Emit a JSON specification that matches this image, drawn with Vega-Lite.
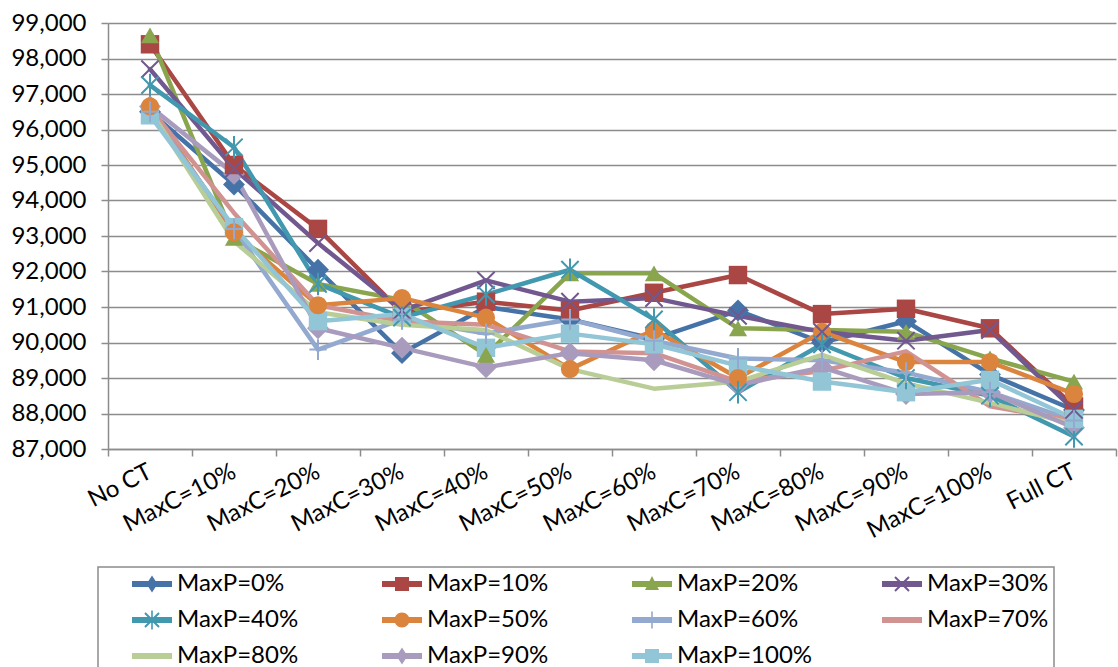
{
  "$schema": "https://vega.github.io/schema/vega-lite/v6.json",
  "width": 1008,
  "height": 426,
  "autosize": {"type": "none"},
  "padding": {"left": 108, "top": 23, "right": 2, "bottom": 218},
  "background": "white",
  "config": {
    "view": {"stroke": null},
    "font": "Lato",
    "axis": {"labelFont": "Lato", "labelColor": "black", "labelFontSize": 24, "domainColor": "#8c8c8c", "tickColor": "#8c8c8c", "domainWidth": 1.5, "tickWidth": 1.5, "tickSize": 7}
  },
  "data": {"values": [
    {"s":"MaxP=0%","c":"No CT","v":96500},{"s":"MaxP=0%","c":"MaxC=10%","v":94450},{"s":"MaxP=0%","c":"MaxC=20%","v":92050},{"s":"MaxP=0%","c":"MaxC=30%","v":89700},{"s":"MaxP=0%","c":"MaxC=40%","v":91000},{"s":"MaxP=0%","c":"MaxC=50%","v":90650},{"s":"MaxP=0%","c":"MaxC=60%","v":90100},{"s":"MaxP=0%","c":"MaxC=70%","v":90900},{"s":"MaxP=0%","c":"MaxC=80%","v":90000},{"s":"MaxP=0%","c":"MaxC=90%","v":90600},{"s":"MaxP=0%","c":"MaxC=100%","v":89100},{"s":"MaxP=0%","c":"Full CT","v":88100},
    {"s":"MaxP=10%","c":"No CT","v":98400},{"s":"MaxP=10%","c":"MaxC=10%","v":95000},{"s":"MaxP=10%","c":"MaxC=20%","v":93200},{"s":"MaxP=10%","c":"MaxC=30%","v":90850},{"s":"MaxP=10%","c":"MaxC=40%","v":91150},{"s":"MaxP=10%","c":"MaxC=50%","v":90900},{"s":"MaxP=10%","c":"MaxC=60%","v":91400},{"s":"MaxP=10%","c":"MaxC=70%","v":91900},{"s":"MaxP=10%","c":"MaxC=80%","v":90800},{"s":"MaxP=10%","c":"MaxC=90%","v":90950},{"s":"MaxP=10%","c":"MaxC=100%","v":90400},{"s":"MaxP=10%","c":"Full CT","v":88200},
    {"s":"MaxP=20%","c":"No CT","v":98650},{"s":"MaxP=20%","c":"MaxC=10%","v":92950},{"s":"MaxP=20%","c":"MaxC=20%","v":91650},{"s":"MaxP=20%","c":"MaxC=30%","v":91200},{"s":"MaxP=20%","c":"MaxC=40%","v":89650},{"s":"MaxP=20%","c":"MaxC=50%","v":91950},{"s":"MaxP=20%","c":"MaxC=60%","v":91950},{"s":"MaxP=20%","c":"MaxC=70%","v":90400},{"s":"MaxP=20%","c":"MaxC=80%","v":90350},{"s":"MaxP=20%","c":"MaxC=90%","v":90300},{"s":"MaxP=20%","c":"MaxC=100%","v":89550},{"s":"MaxP=20%","c":"Full CT","v":88900},
    {"s":"MaxP=30%","c":"No CT","v":97700},{"s":"MaxP=30%","c":"MaxC=10%","v":94900},{"s":"MaxP=30%","c":"MaxC=20%","v":92800},{"s":"MaxP=30%","c":"MaxC=30%","v":90900},{"s":"MaxP=30%","c":"MaxC=40%","v":91750},{"s":"MaxP=30%","c":"MaxC=50%","v":91150},{"s":"MaxP=30%","c":"MaxC=60%","v":91250},{"s":"MaxP=30%","c":"MaxC=70%","v":90750},{"s":"MaxP=30%","c":"MaxC=80%","v":90300},{"s":"MaxP=30%","c":"MaxC=90%","v":90050},{"s":"MaxP=30%","c":"MaxC=100%","v":90350},{"s":"MaxP=30%","c":"Full CT","v":88100},
    {"s":"MaxP=40%","c":"No CT","v":97250},{"s":"MaxP=40%","c":"MaxC=10%","v":95500},{"s":"MaxP=40%","c":"MaxC=20%","v":91650},{"s":"MaxP=40%","c":"MaxC=30%","v":90700},{"s":"MaxP=40%","c":"MaxC=40%","v":91350},{"s":"MaxP=40%","c":"MaxC=50%","v":92050},{"s":"MaxP=40%","c":"MaxC=60%","v":90650},{"s":"MaxP=40%","c":"MaxC=70%","v":88600},{"s":"MaxP=40%","c":"MaxC=80%","v":89950},{"s":"MaxP=40%","c":"MaxC=90%","v":89000},{"s":"MaxP=40%","c":"MaxC=100%","v":88500},{"s":"MaxP=40%","c":"Full CT","v":87350},
    {"s":"MaxP=50%","c":"No CT","v":96650},{"s":"MaxP=50%","c":"MaxC=10%","v":93100},{"s":"MaxP=50%","c":"MaxC=20%","v":91050},{"s":"MaxP=50%","c":"MaxC=30%","v":91250},{"s":"MaxP=50%","c":"MaxC=40%","v":90700},{"s":"MaxP=50%","c":"MaxC=50%","v":89250},{"s":"MaxP=50%","c":"MaxC=60%","v":90350},{"s":"MaxP=50%","c":"MaxC=70%","v":89000},{"s":"MaxP=50%","c":"MaxC=80%","v":90300},{"s":"MaxP=50%","c":"MaxC=90%","v":89450},{"s":"MaxP=50%","c":"MaxC=100%","v":89450},{"s":"MaxP=50%","c":"Full CT","v":88550},
    {"s":"MaxP=60%","c":"No CT","v":96500},{"s":"MaxP=60%","c":"MaxC=10%","v":93200},{"s":"MaxP=60%","c":"MaxC=20%","v":89800},{"s":"MaxP=60%","c":"MaxC=30%","v":90650},{"s":"MaxP=60%","c":"MaxC=40%","v":90250},{"s":"MaxP=60%","c":"MaxC=50%","v":90650},{"s":"MaxP=60%","c":"MaxC=60%","v":90050},{"s":"MaxP=60%","c":"MaxC=70%","v":89550},{"s":"MaxP=60%","c":"MaxC=80%","v":89500},{"s":"MaxP=60%","c":"MaxC=90%","v":89150},{"s":"MaxP=60%","c":"MaxC=100%","v":88600},{"s":"MaxP=60%","c":"Full CT","v":87800},
    {"s":"MaxP=70%","c":"No CT","v":96600},{"s":"MaxP=70%","c":"MaxC=10%","v":93650},{"s":"MaxP=70%","c":"MaxC=20%","v":91050},{"s":"MaxP=70%","c":"MaxC=30%","v":90600},{"s":"MaxP=70%","c":"MaxC=40%","v":90500},{"s":"MaxP=70%","c":"MaxC=50%","v":89750},{"s":"MaxP=70%","c":"MaxC=60%","v":89700},{"s":"MaxP=70%","c":"MaxC=70%","v":88900},{"s":"MaxP=70%","c":"MaxC=80%","v":89200},{"s":"MaxP=70%","c":"MaxC=90%","v":89750},{"s":"MaxP=70%","c":"MaxC=100%","v":88200},{"s":"MaxP=70%","c":"Full CT","v":87800},
    {"s":"MaxP=80%","c":"No CT","v":96550},{"s":"MaxP=80%","c":"MaxC=10%","v":92850},{"s":"MaxP=80%","c":"MaxC=20%","v":90850},{"s":"MaxP=80%","c":"MaxC=30%","v":90500},{"s":"MaxP=80%","c":"MaxC=40%","v":90350},{"s":"MaxP=80%","c":"MaxC=50%","v":89250},{"s":"MaxP=80%","c":"MaxC=60%","v":88700},{"s":"MaxP=80%","c":"MaxC=70%","v":88900},{"s":"MaxP=80%","c":"MaxC=80%","v":89650},{"s":"MaxP=80%","c":"MaxC=90%","v":88850},{"s":"MaxP=80%","c":"MaxC=100%","v":88300},{"s":"MaxP=80%","c":"Full CT","v":87700},
    {"s":"MaxP=90%","c":"No CT","v":96650},{"s":"MaxP=90%","c":"MaxC=10%","v":94750},{"s":"MaxP=90%","c":"MaxC=20%","v":90400},{"s":"MaxP=90%","c":"MaxC=30%","v":89850},{"s":"MaxP=90%","c":"MaxC=40%","v":89300},{"s":"MaxP=90%","c":"MaxC=50%","v":89700},{"s":"MaxP=90%","c":"MaxC=60%","v":89500},{"s":"MaxP=90%","c":"MaxC=70%","v":88800},{"s":"MaxP=90%","c":"MaxC=80%","v":89300},{"s":"MaxP=90%","c":"MaxC=90%","v":88550},{"s":"MaxP=90%","c":"MaxC=100%","v":88600},{"s":"MaxP=90%","c":"Full CT","v":87600},
    {"s":"MaxP=100%","c":"No CT","v":96400},{"s":"MaxP=100%","c":"MaxC=10%","v":93250},{"s":"MaxP=100%","c":"MaxC=20%","v":90600},{"s":"MaxP=100%","c":"MaxC=30%","v":90800},{"s":"MaxP=100%","c":"MaxC=40%","v":89850},{"s":"MaxP=100%","c":"MaxC=50%","v":90250},{"s":"MaxP=100%","c":"MaxC=60%","v":89950},{"s":"MaxP=100%","c":"MaxC=70%","v":89350},{"s":"MaxP=100%","c":"MaxC=80%","v":88900},{"s":"MaxP=100%","c":"MaxC=90%","v":88600},{"s":"MaxP=100%","c":"MaxC=100%","v":88950},{"s":"MaxP=100%","c":"Full CT","v":87850}
  ]},
  "encoding": {
    "x": {"field": "c", "type": "nominal", "sort": ["No CT","MaxC=10%","MaxC=20%","MaxC=30%","MaxC=40%","MaxC=50%","MaxC=60%","MaxC=70%","MaxC=80%","MaxC=90%","MaxC=100%","Full CT"],
      "scale": {"type": "band", "paddingInner": 0, "paddingOuter": 0},
      "axis": {"title": null, "labelAngle": -27, "labelAlign": "right", "labelBaseline": "middle", "labelPadding": 14, "tickBand": "extent", "grid": false}},
    "y": {"field": "v", "type": "quantitative", "scale": {"domain": [87000, 99000], "zero": false, "nice": false},
      "axis": {"title": null, "values": [87000,88000,89000,90000,91000,92000,93000,94000,95000,96000,97000,98000,99000], "format": ",.0f", "labelPadding": 15, "grid": true, "gridColor": "#8c8c8c", "gridWidth": 1.5}},
    "color": {"field": "s", "type": "nominal", "legend": null,
      "scale": {"domain": ["MaxP=0%","MaxP=10%","MaxP=20%","MaxP=30%","MaxP=40%","MaxP=50%","MaxP=60%","MaxP=70%","MaxP=80%","MaxP=90%","MaxP=100%"],
        "range": ["#4572A7","#AA4643","#89A54E","#71588F","#4198AF","#DB843D","#93A9CF","#D19392","#B9CD96","#A99BBD","#92C5D6"]}}
  },
  "layer": [
    {
      "mark": {"type": "line", "strokeWidth": 4.5, "strokeJoin": "round", "strokeCap": "round"},
      "encoding": {
        "color": {"field": "s", "type": "nominal",
          "legend": {
            "title": null, "orient": "none", "legendX": -10, "legendY": 544, "direction": "horizontal", "columns": 4,
            "gridAlign": "all", "columnPadding": 40, "rowPadding": 12, "padding": 5,
            "labelFont": "Lato", "labelFontSize": 24, "labelColor": "black", "labelLimit": 300,
            "symbolSize": 400, "symbolStrokeWidth": 0, "symbolOffset": 37, "labelOffset": 13,
            "strokeColor": "#8c8c8c",
            "encode": {
              "legend": {"update": {"strokeWidth": {"value": 1.5}}},
              "symbols": {"update": {
                "fill": {"signal": "scale('color', datum.value)"},
                "stroke": {"value": "transparent"},
                "opacity": {"value": 1},
                "shape": {"signal": "datum.value==='MaxP=0%'||datum.value==='MaxP=90%' ? 'M-2,-0.3L2,-0.3L2,0.3L-2,0.3Z M0,-0.85L0.55,0L0,0.85L-0.55,0Z' : datum.value==='MaxP=10%'||datum.value==='MaxP=100%' ? 'M-2,-0.3L2,-0.3L2,0.3L-2,0.3Z M-0.7,-0.7L0.7,-0.7L0.7,0.7L-0.7,0.7Z' : datum.value==='MaxP=20%' ? 'M-2,-0.3L2,-0.3L2,0.3L-2,0.3Z M0,-0.8L0.7,0.6L-0.7,0.6Z' : datum.value==='MaxP=30%' ? 'M-2,-0.3L2,-0.3L2,0.3L-2,0.3Z M-0.63,-0.77L0.77,0.63L0.63,0.77L-0.77,-0.63Z M-0.77,0.63L0.63,-0.77L0.77,-0.63L-0.63,0.77Z' : datum.value==='MaxP=40%' ? 'M-2,-0.3L2,-0.3L2,0.3L-2,0.3Z M-0.63,-0.77L0.77,0.63L0.63,0.77L-0.77,-0.63Z M-0.77,0.63L0.63,-0.77L0.77,-0.63L-0.63,0.77Z M-0.08,-0.95L0.08,-0.95L0.08,0.95L-0.08,0.95Z' : datum.value==='MaxP=50%' ? 'M-2,-0.3L2,-0.3L2,0.3L-2,0.3Z M-0.75,0A0.75,0.75 0 1,1 0.75,0A0.75,0.75 0 1,1 -0.75,0Z' : datum.value==='MaxP=60%' ? 'M-2,-0.3L2,-0.3L2,0.3L-2,0.3Z M-0.08,-0.85L0.08,-0.85L0.08,0.85L-0.08,0.85Z' : 'M-2,-0.3L2,-0.3L2,0.3L-2,0.3Z'"}
              }}
            }
          }
        }
      }
    },
    {
      "transform": [{"filter": {"field": "s", "oneOf": ["MaxP=0%","MaxP=90%"]}}],
      "mark": {"type": "point", "filled": true, "opacity": 1, "shape": "diamond", "size": 480}
    },
    {
      "transform": [{"filter": {"field": "s", "oneOf": ["MaxP=10%","MaxP=100%"]}}],
      "mark": {"type": "point", "filled": true, "opacity": 1, "shape": "square", "size": 340}
    },
    {
      "transform": [{"filter": {"field": "s", "equal": "MaxP=20%"}}],
      "mark": {"type": "point", "filled": true, "opacity": 1, "shape": "triangle-up", "size": 330}
    },
    {
      "transform": [{"filter": {"field": "s", "equal": "MaxP=50%"}}],
      "mark": {"type": "point", "filled": true, "opacity": 1, "shape": "circle", "size": 330}
    },
    {
      "transform": [{"filter": {"field": "s", "equal": "MaxP=30%"}}],
      "mark": {"type": "point", "filled": false, "opacity": 1, "strokeWidth": 2, "shape": "M-1,-1L1,1M-1,1L1,-1", "size": 300}
    },
    {
      "transform": [{"filter": {"field": "s", "equal": "MaxP=40%"}}],
      "mark": {"type": "point", "filled": false, "opacity": 1, "strokeWidth": 2, "shape": "M-1,-1L1,1M-1,1L1,-1M0,-1.3L0,1.3", "size": 300}
    },
    {
      "transform": [{"filter": {"field": "s", "equal": "MaxP=60%"}}],
      "mark": {"type": "point", "filled": false, "opacity": 1, "strokeWidth": 2, "shape": "M-1,0L1,0M0,-1.2L0,1.2", "size": 300}
    }
  ]
}
